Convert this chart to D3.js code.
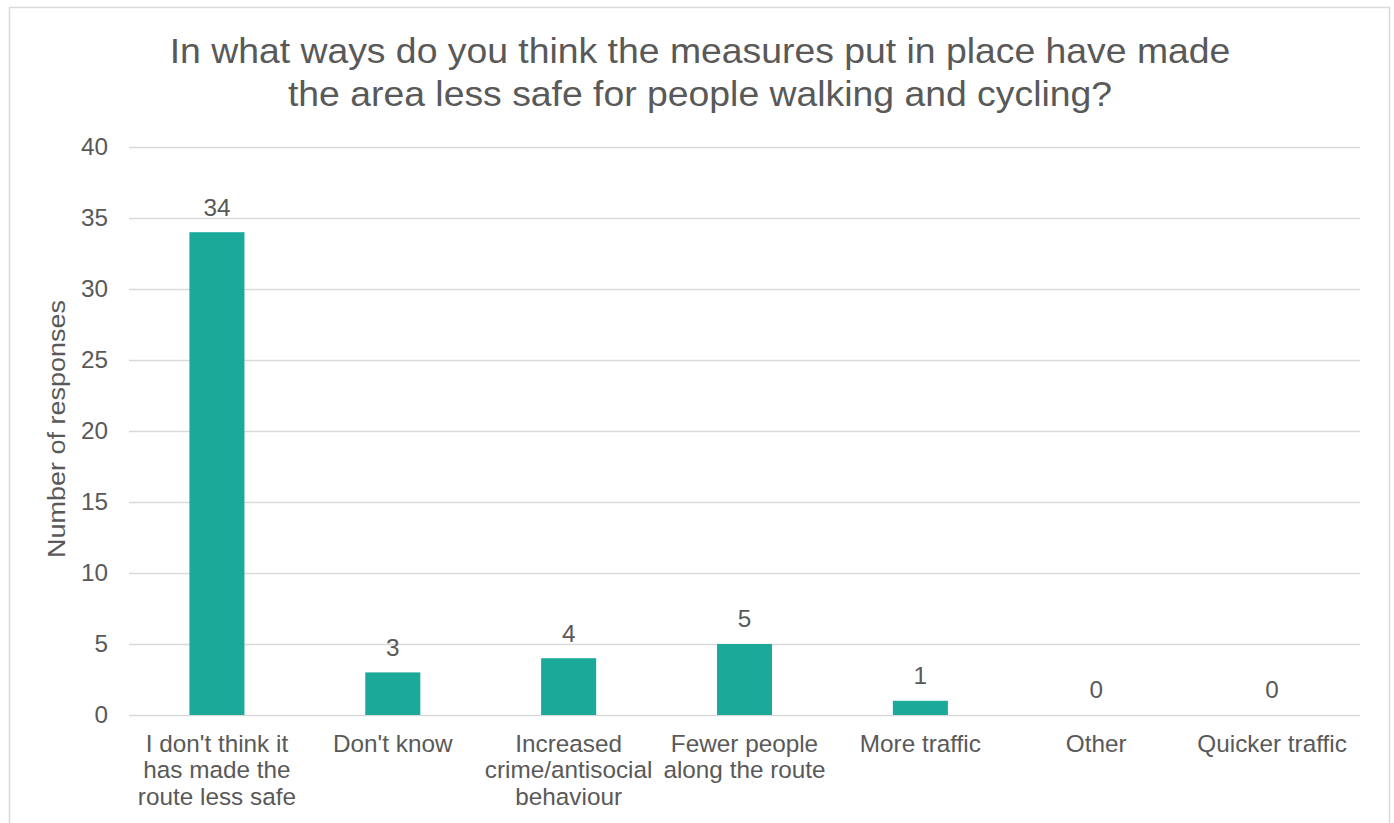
<!DOCTYPE html>
<html>
<head>
<meta charset="utf-8">
<script src="https://cdn.jsdelivr.net/npm/d3@7"></script>
<style>
  html, body { margin: 0; padding: 0; background: #fff; }
  svg { display: block; }
  text { font-family: "Liberation Sans", Arial, sans-serif; fill: #595959; }
</style>
</head>
<body>
<svg id="chart" width="1394" height="823"></svg>
<script>
const titleLines = ["In what ways do you think the measures put in place have made", "the area less safe for people walking and cycling?"];
const categories = [
  ["I don't think it", "has made the", "route less safe"],
  ["Don't know"],
  ["Increased", "crime/antisocial", "behaviour"],
  ["Fewer people", "along the route"],
  ["More traffic"],
  ["Other"],
  ["Quicker traffic"]
];
const values = [34, 3, 4, 5, 1, 0, 0];
const yTicks = [0, 5, 10, 15, 20, 25, 30, 35, 40];
const yLabel = "Number of responses";

const svg = d3.select("#chart");
const plotLeft = 129, plotRight = 1360, plotTop = 147, plotBottom = 715;
const fs = 23.5, sx = 1.035;

// horizontal stretch around an anchor x
const stretch = (cx, f) => `translate(${cx},0) scale(${f},1) translate(${-cx},0)`;

// chart border
svg.append("rect").attr("x", 9.5).attr("y", 7.5).attr("width", 1380).attr("height", 830)
  .attr("fill", "#fff").attr("stroke", "#d9d9d9").attr("stroke-width", 1.5);

// title
svg.append("g").selectAll("text").data(titleLines).join("text")
  .attr("x", 700).attr("y", (d, i) => 63 + i * 43)
  .attr("transform", stretch(700, 1.067))
  .attr("text-anchor", "middle").style("font-size", "35px").text(d => d);

const x = d3.scaleBand().domain(d3.range(categories.length)).range([plotLeft, plotRight])
  .paddingInner(0.687).paddingOuter(0.687 / 2);
const y = d3.scaleLinear().domain([0, 40]).range([plotBottom, plotTop]);

// gridlines
svg.append("g").selectAll("line").data(yTicks).join("line")
  .attr("x1", plotLeft).attr("x2", plotRight)
  .attr("y1", d => Math.round(y(d)) + 0.5).attr("y2", d => Math.round(y(d)) + 0.5)
  .attr("stroke", "#d9d9d9").attr("stroke-width", 1.5);

// y axis tick labels
const yAxis = d3.axisLeft(y).tickValues(yTicks).tickSize(0).tickPadding(21);
const ya = svg.append("g").attr("transform", `translate(${plotLeft},0)`).call(yAxis);
ya.select(".domain").remove();
ya.selectAll("text").style("font-size", fs + "px").attr("fill", "#595959")
  .style("font-family", '"Liberation Sans", Arial, sans-serif')
  .attr("transform", stretch(-21, sx));

// y axis title
svg.append("text").attr("transform", "translate(65,429) rotate(-90)")
  .attr("text-anchor", "middle").style("font-size", "23px")
  .attr("textLength", 258).attr("lengthAdjust", "spacingAndGlyphs").text(yLabel);

// bars
svg.append("g").selectAll("rect").data(values).join("rect")
  .attr("x", (d, i) => x(i)).attr("width", x.bandwidth())
  .attr("y", d => y(d)).attr("height", d => y(0) - y(d))
  .attr("fill", "#1ba99a");

// data labels
svg.append("g").selectAll("text").data(values).join("text")
  .attr("x", (d, i) => x(i) + x.bandwidth() / 2).attr("y", d => y(d) - 16.5)
  .attr("transform", (d, i) => stretch(x(i) + x.bandwidth() / 2, sx))
  .attr("text-anchor", "middle").style("font-size", fs + "px").text(d => d);

// category labels
const cg = svg.append("g").selectAll("text").data(categories).join("text")
  .attr("x", (d, i) => x(i) + x.bandwidth() / 2).attr("y", 752)
  .attr("transform", (d, i) => stretch(x(i) + x.bandwidth() / 2, sx))
  .attr("text-anchor", "middle").style("font-size", fs + "px");
cg.selectAll("tspan").data(d => d).join("tspan")
  .attr("x", function() { return d3.select(this.parentNode).attr("x"); })
  .attr("dy", (d, i) => i === 0 ? 0 : 26.5).text(d => d);
</script>
</body>
</html>
